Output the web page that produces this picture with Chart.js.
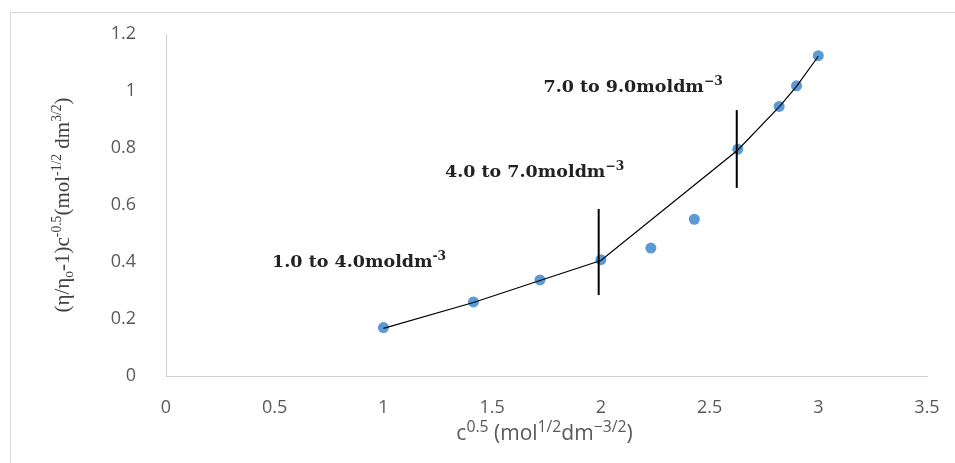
<!DOCTYPE html>
<html>
<head>
    <title>Viscosity plot</title>
    <script src="https://cdn.jsdelivr.net/npm/chart.js"></script>
    <style>
        body { margin: 0; background: #fff; }
    </style>
</head>
<body>
    <canvas id="myChart" width="955" height="463"></canvas>
    <script>
        // measured points, x = c^0.5
        const sqrtConc = [1.0, 1.414, 1.72, 2.0, 2.23, 2.43, 2.63, 2.82, 2.9, 3.0];
        const viscFn = [0.17, 0.26, 0.337, 0.408, 0.449, 0.55, 0.796, 0.946, 1.018, 1.124];

        // the hand drawn fit line (skips the two points in the middle)
        const fitX = [1.0, 1.414, 1.72, 2.0, 2.63, 2.82, 2.9, 3.0];
        const fitY = [0.167, 0.258, 0.335, 0.405, 0.793, 0.944, 1.016, 1.122];

        // vertical separators between the regions
        const dividerX = [1.99, 2.625];
        const dividerLow = [0.284, 0.66];
        const dividerHigh = [0.586, 0.933];

        // region labels
        const regionText = ['1.0 to 4.0moldm', '4.0 to 7.0moldm', '7.0 to 9.0moldm'];
        const regionSup = ['-3', '\u22123', '\u22123'];
        const regionAtX = [0.488, 1.283, 1.736];
        const regionAtY = [0.382, 0.70, 0.998];

        const xTicks = [0, 0.5, 1, 1.5, 2, 2.5, 3, 3.5];
        const yTicks = [0, 0.2, 0.4, 0.6, 0.8, 1, 1.2];

        function toPoints(xs, ys) {
            return xs.map((x, i) => ({ x: x, y: ys[i] }));
        }

        // draws text pieces with superscript / subscript
        function drawRich(ctx, parts, x, y, size, family, weight, color, align, ratio) {
            const small = size * (ratio || 0.65);
            const fontOf = (s) => `${weight} ${s}px ${family}`;
            let total = 0;
            parts.forEach(p => {
                ctx.font = fontOf(p[1] ? small : size);
                total += ctx.measureText(p[0]).width;
            });
            let cx = align === 'center' ? x - total / 2 : x;
            ctx.fillStyle = color;
            ctx.textAlign = 'left';
            ctx.textBaseline = 'alphabetic';
            parts.forEach(p => {
                ctx.font = fontOf(p[1] ? small : size);
                let dy = 0;
                if (p[1] === 'sup') dy = -size * 0.4;
                if (p[1] === 'sub') dy = size * 0.2;
                ctx.fillText(p[0], cx, y + dy);
                cx += ctx.measureText(p[0]).width;
            });
        }

        const extras = {
            id: 'extras',
            beforeDraw(chart) {
                const ctx = chart.ctx;
                ctx.save();
                ctx.strokeStyle = '#d9d9d9';
                ctx.lineWidth = 1;
                ctx.beginPath();
                ctx.moveTo(10.5, 463);
                ctx.lineTo(10.5, 12.5);
                ctx.lineTo(955, 12.5);
                ctx.stroke();
                ctx.restore();
            },
            afterDraw(chart) {
                const ctx = chart.ctx;
                const xs = chart.scales.x;
                const ys = chart.scales.y;
                const area = chart.chartArea;
                ctx.save();

                regionText.forEach((t, i) => {
                    drawRich(ctx, [[t, ''], [regionSup[i], 'sup']],
                        xs.getPixelForValue(regionAtX[i]), ys.getPixelForValue(regionAtY[i]),
                        17.5, '"DejaVu Serif"', 'bold', '#222', 'left', 0.7);
                });

                // x axis title
                drawRich(ctx, [['c', ''], ['0.5', 'sup'], [' (mol', ''], ['1/2', 'sup'], ['dm', ''], ['\u22123/2', 'sup'], [')', '']],
                    (area.left + area.right) / 2 - 2, 440, 21, '"Open Sans"', 'normal', '#595959', 'center', 0.75);

                // y axis title
                ctx.save();
                ctx.translate(69, (area.top + area.bottom) / 2);
                ctx.rotate(-Math.PI / 2);
                drawRich(ctx, [['(\u03b7/\u03b7', ''], ['o', 'sub'], ['-1)c', ''], ['-0.5', 'sup'], ['(mol', ''], ['-1/2', 'sup'], [' dm', ''], ['3/2', 'sup'], [')', '']],
                    0, 0, 21, '"Liberation Serif"', 'normal', '#404040', 'center', 0.65);
                ctx.restore();

                ctx.restore();
            }
        };

        const dividerSets = dividerX.map((x, i) => ({
            type: 'scatter',
            showLine: true,
            data: [{ x: x, y: dividerLow[i] }, { x: x, y: dividerHigh[i] }],
            borderColor: '#000',
            borderWidth: 2,
            pointRadius: 0
        }));

        const data = {
            datasets: [
                {
                    type: 'scatter',
                    showLine: true,
                    data: toPoints(fitX, fitY),
                    borderColor: '#000',
                    borderWidth: 1.2,
                    pointRadius: 0
                },
                ...dividerSets,
                {
                    type: 'scatter',
                    data: toPoints(sqrtConc, viscFn),
                    backgroundColor: '#5b9bd5',
                    borderColor: '#5b9bd5',
                    pointRadius: 5.5,
                    pointBorderWidth: 0
                }
            ]
        };

        const tickFont = { family: '"Open Sans"', size: 18 };

        const config = {
            type: 'scatter',
            data: data,
            plugins: [extras],
            options: {
                responsive: false,
                animation: false,
                layout: { padding: { left: 0, top: 34, right: 28, bottom: 0 } },
                plugins: {
                    legend: { display: false },
                    tooltip: { enabled: false }
                },
                scales: {
                    x: {
                        type: 'linear',
                        min: 0,
                        max: 3.5,
                        afterBuildTicks: (s) => { s.ticks = xTicks.map(v => ({ value: v })); },
                        afterFit: (s) => { s.height = 87; },
                        grid: { display: false },
                        border: { display: true, color: '#d0d0d0', width: 1 },
                        ticks: { color: '#595959', font: tickFont, padding: 13, maxRotation: 0, callback: (v) => String(v) }
                    },
                    y: {
                        type: 'linear',
                        min: 0,
                        max: 1.2,
                        afterBuildTicks: (s) => { s.ticks = yTicks.map(v => ({ value: v })); },
                        afterFit: (s) => { s.width = 166; },
                        grid: { display: false },
                        border: { display: true, color: '#d0d0d0', width: 1 },
                        ticks: { color: '#595959', font: tickFont, padding: 22, callback: (v) => String(v) }
                    }
                }
            }
        };

        const myChart = new Chart(document.getElementById('myChart'), config);
    </script>
</body>
</html>
